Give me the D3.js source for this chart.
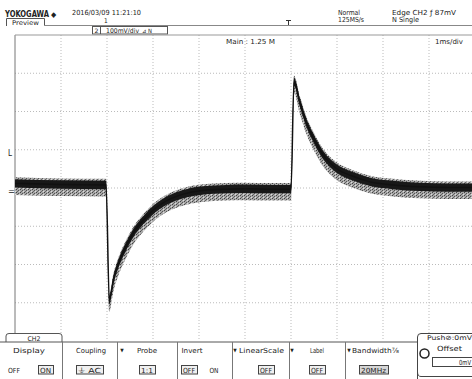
<!DOCTYPE html>
<html>
<head>
<meta charset="utf-8">
<script src="https://cdn.jsdelivr.net/npm/d3@7"></script>
<style>
  body { margin: 0; background: #fff; }
  svg { display: block; }
  text { font-family: "Liberation Sans Narrow", "DejaVu Sans Condensed", "Liberation Sans", sans-serif; fill: #222; }
</style>
</head>
<body>
<svg id="scope" width="472" height="379"></svg>
<script>
// trace: time in ms (0 = screen centre), level in mV
const timeMs  = [-5, -4, -3.02, -2.95, -2.86, -2.72, -2.57, -2.43, -2.21, -2.0, -1.7, -1.34, -0.98, -0.4, 0.0, 0.6, 1.0, 1.065, 1.2, 1.34, 1.49, 1.7, 1.99, 2.36, 2.72, 3.22, 3.8, 4.4, 5];
const levelMv = [12, 9, 8, -293, -240, -188, -149, -118, -84, -58, -33, -16, -7, -3, -2, -3, -3, 278, 221, 169, 130, 86, 51, 30, 16, 8, 3, 1, 1];
// noise band around the trace (mV): dark core and grey envelope
const coreBand = [11, -11];
const envBand = [16, -30];

// screen divisions
const timeTicks = d3.range(-5, 6, 1);      // 1 ms/div
const levelTicks = d3.range(-400, 401, 100); // 100 mV/div

// bottom soft-key menu
const menuLabels = ["Display", "Coupling", "Probe", "Invert", "LinearScale", "Label", "Bandwidth\u215e"];
const menuArrow = [false, false, true, false, true, true, true];

const svg = d3.select("#scope");

const x = d3.scaleLinear().domain([-5, 5]).range([15, 475]);
const y = d3.scaleLinear().domain([-400, 400]).range([341, 35]);

const data = timeMs.map((t, i) => ({ t: t, v: levelMv[i] }));

function txt(str, px, py, opts) {
  opts = opts || {};
  const el = svg.append("text")
    .attr("x", px)
    .attr("y", py)
    .attr("font-size", opts.size || 7)
    .attr("text-anchor", opts.anchor || "start")
    .text(str);
  if (opts.len) el.attr("textLength", opts.len).attr("lengthAdjust", "spacingAndGlyphs");
  if (opts.bold) el.attr("font-weight", "bold");
  return el;
}

// speckle fill for the noisy envelope
const pat = svg.append("defs").append("pattern")
  .attr("id", "speckle")
  .attr("width", 4).attr("height", 3)
  .attr("patternUnits", "userSpaceOnUse");
pat.append("rect").attr("width", 4).attr("height", 3).attr("fill", "#a8a8a8");
pat.append("rect").attr("x", 0).attr("y", 0).attr("width", 1).attr("height", 1).attr("fill", "#444");
pat.append("rect").attr("x", 2).attr("y", 1).attr("width", 1).attr("height", 1).attr("fill", "#555");
pat.append("rect").attr("x", 1).attr("y", 2).attr("width", 1).attr("height", 1).attr("fill", "#666");
pat.append("rect").attr("x", 3).attr("y", 2).attr("width", 1).attr("height", 1).attr("fill", "#ddd");

// header
txt("YOKOGAWA", 5, 16.5, { size: 8, len: 44, bold: true });
txt("\u25c6", 51, 16.5, { size: 7.5 });
txt("2016/03/09 11:21:10", 72, 15, { len: 69 });
txt("1", 104, 23, { size: 6.5 });
txt("Normal", 338, 15, { len: 22 });
txt("125MS/s", 338, 22, { len: 26 });
txt("Edge CH2 \u0192 87mV", 392, 15, { len: 64 });
txt("N Single", 392, 22, { len: 27 });

// preview tab
svg.append("path")
  .attr("d", "M6.5,26V18.5H44.5V26")
  .attr("fill", "none").attr("stroke", "#555").attr("stroke-width", 1);
txt("Preview", 25.5, 24.5, { anchor: "middle", size: 6.5, len: 27 });

svg.append("line")
  .attr("x1", 44).attr("x2", 472).attr("y1", 25.5).attr("y2", 25.5)
  .attr("stroke", "#888");

// channel box
svg.append("rect")
  .attr("x", 92.5).attr("y", 26.5).attr("width", 75).attr("height", 7.5)
  .attr("fill", "#fff").attr("stroke", "#555");
svg.append("line").attr("x1", 100.5).attr("x2", 100.5).attr("y1", 26.5).attr("y2", 34)
  .attr("stroke", "#555");
txt("2", 94.5, 33, { size: 6, len: 4 });
txt("100mV/div", 106, 33, { size: 6.5, len: 33 });
txt("\u22bf N", 142, 33, { size: 6, len: 10 });

// trigger position marker
svg.append("path")
  .attr("d", "M286,20.5H291M288.5,20.5V25")
  .attr("stroke", "#333").attr("fill", "none");

// grid
svg.append("g").selectAll("line")
  .data(timeTicks.slice(1))
  .join("line")
  .attr("x1", d => x(d)).attr("x2", d => x(d))
  .attr("y1", y(400)).attr("y2", y(-400))
  .attr("stroke", "#bbb").attr("stroke-dasharray", "1,2");
svg.append("g").selectAll("line")
  .data(levelTicks.slice(1, -1))
  .join("line")
  .attr("x1", x(-5)).attr("x2", x(5))
  .attr("y1", d => y(d)).attr("y2", d => y(d))
  .attr("stroke", "#bbb").attr("stroke-dasharray", "1,2");
svg.append("line")
  .attr("x1", x(-5)).attr("x2", x(-5)).attr("y1", y(400)).attr("y2", y(-400))
  .attr("stroke", "#777");
svg.append("line")
  .attr("x1", x(-5)).attr("x2", x(5)).attr("y1", y(400)).attr("y2", y(400))
  .attr("stroke", "#999");

txt("Main : 1.25 M", 226, 44, { len: 49 });
txt("1ms/div", 435, 44, { len: 28 });

// left markers: trigger level and ground
txt("L", 8, 156, { size: 8 });
txt("=", 8, 194, { size: 8, len: 7 });

// trace: grey envelope, dark core, centre line
const curve = d3.curveMonotoneX;
svg.append("path")
  .datum(data)
  .attr("fill", "url(#speckle)")
  .attr("d", d3.area().curve(curve)
    .x(d => x(d.t))
    .y0(d => y(d.v + envBand[1]))
    .y1(d => y(d.v + envBand[0])));
svg.append("path")
  .datum(data)
  .attr("fill", "#181818")
  .attr("d", d3.area().curve(curve)
    .x(d => x(d.t))
    .y0(d => y(d.v + coreBand[1]))
    .y1(d => y(d.v + coreBand[0])));
svg.append("path")
  .datum(data)
  .attr("fill", "none")
  .attr("stroke", "#111")
  .attr("stroke-width", 1.5)
  .attr("d", d3.line().curve(curve).x(d => x(d.t)).y(d => y(d.v)));

// bottom menu
const menu = svg.append("g");
menu.append("rect").attr("x", 0).attr("y", 342).attr("width", 417).attr("height", 37).attr("fill", "#fff");
menu.append("path")
  .attr("d", "M6,342V336Q6,333.5 9,333.5H59Q62,333.5 62,336V342")
  .attr("fill", "#fff").attr("stroke", "#555");
txt("CH2", 34, 340.5, { anchor: "middle", size: 6.5, len: 13 });
menu.append("line").attr("x1", 0).attr("x2", 417).attr("y1", 342).attr("y2", 342).attr("stroke", "#555");

const sepX = [62, 117, 177, 232, 289, 345];
menu.selectAll("line.sep")
  .data(sepX)
  .join("line")
  .attr("class", "sep")
  .attr("x1", d => d + 0.5).attr("x2", d => d + 0.5)
  .attr("y1", 342).attr("y2", 379)
  .attr("stroke", "#777");

const cellCx = [29, 91, 147, 192, 261.5, 317, 375.5];
const cellLen = [32, 30, 20, 21, 45, 14, 47];
const arrowX = [null, null, 122, null, 235, 292, 349];
menuLabels.forEach((m, i) => {
  txt(m, cellCx[i], 353, { anchor: "middle", len: cellLen[i] });
  if (menuArrow[i]) txt("\u25bc", arrowX[i], 352, { anchor: "middle", size: 5 });
});

// value boxes on the second row
function box(str, x0, x1, fill) {
  menu.append("rect")
    .attr("x", x0 + 0.5).attr("y", 365.5).attr("width", x1 - x0).attr("height", 8.5)
    .attr("fill", fill || "#f0f0f0").attr("stroke", "#444");
  txt(str, (x0 + x1) / 2, 372.5, { anchor: "middle", len: x1 - x0 - 4 });
}
txt("OFF", 14, 372.5, { anchor: "middle", len: 12 });
box("ON", 38, 53);
box("\u23da AC", 76, 103);
box("1:1", 139, 155);
box("OFF", 181, 197);
txt("ON", 214, 372.5, { anchor: "middle", len: 9 });
box("OFF", 258, 274);
box("OFF", 309, 325);
box("20MHz", 359, 388, "#d6d6d6");

// offset knob panel
menu.append("path")
  .attr("d", "M417.5,379V337Q417.5,333.5 421,333.5H476")
  .attr("fill", "none").attr("stroke", "#444");
menu.append("path")
  .attr("d", "M417.5,372Q417.5,376.5 421,376.5H476")
  .attr("fill", "none").attr("stroke", "#444");
txt("Push\u2298:0mV", 427, 339.5, { size: 6.5, len: 45 });
menu.append("circle").attr("cx", 424.5).attr("cy", 353.5).attr("r", 4.5)
  .attr("fill", "none").attr("stroke", "#222").attr("stroke-width", 1.5);
txt("Offset", 437, 351, { len: 25 });
menu.append("rect").attr("x", 432.5).attr("y", 357.5).attr("width", 45).attr("height", 9)
  .attr("fill", "#fff").attr("stroke", "#444");
txt("0mV", 471, 365, { anchor: "end", len: 12 });
</script>
</body>
</html>
